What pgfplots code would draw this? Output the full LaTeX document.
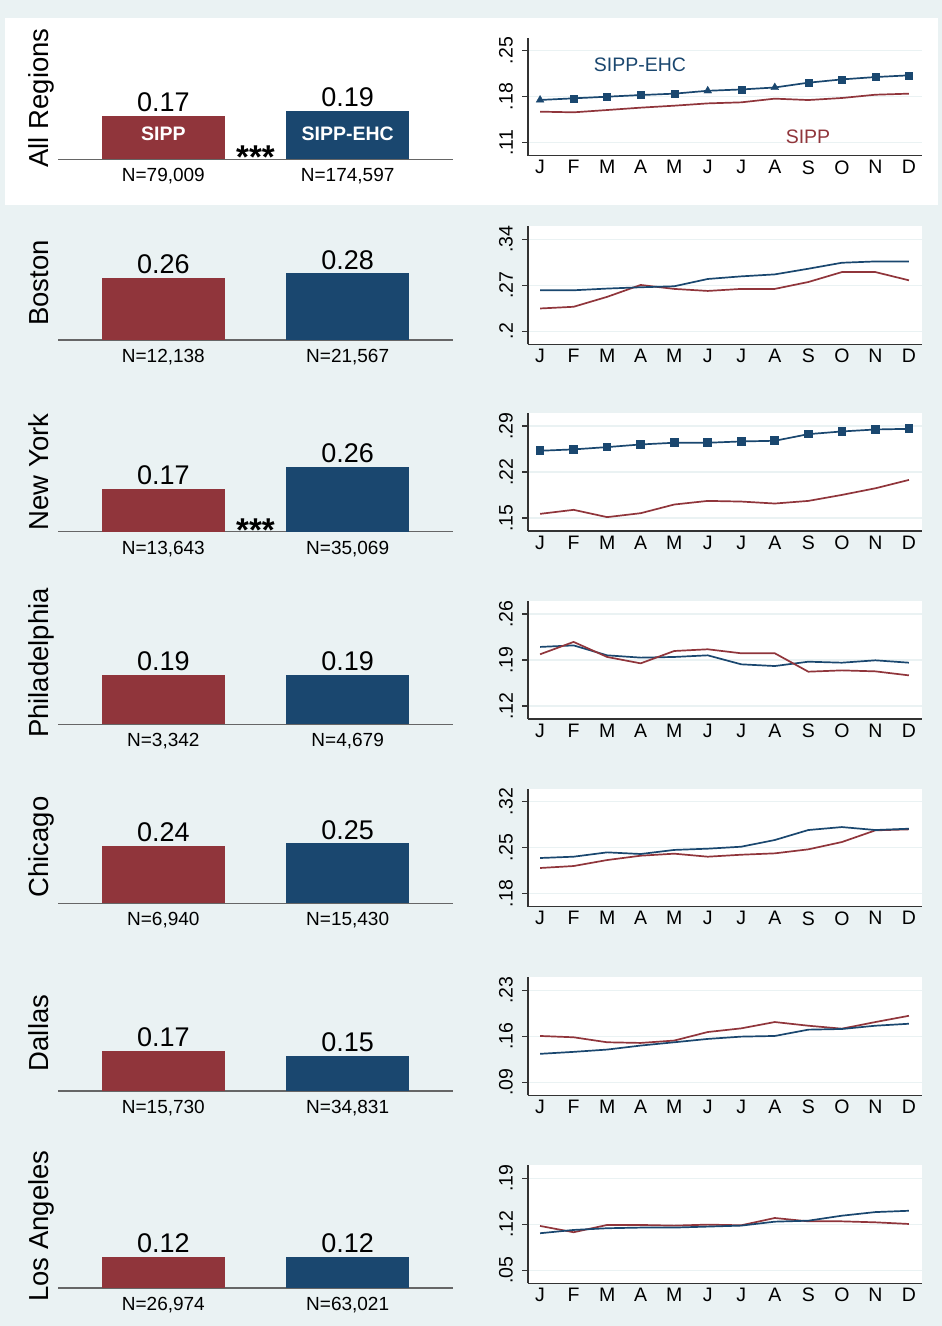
\documentclass[border=0pt]{standalone}
\usepackage{fontspec}
\setmainfont{Liberation Sans}
\usepackage{pgfplots}
\usepackage{pgfplotstable}
\pgfplotsset{compat=1.18}

\definecolor{bgc}{RGB}{234,242,243}
\definecolor{sippred}{RGB}{144,53,59}
\definecolor{ehcblue}{RGB}{26,71,111}

\newcommand\Vfont{\fontsize{27}{30}\selectfont}
\newcommand\Nfont{\fontsize{19}{22}\selectfont}
\newcommand\Tfont{\fontsize{19.5}{22}\selectfont}
\newcommand\Lfont{\fontsize{27.5}{30}\selectfont}
\newcommand\Bfont{\fontsize{19.5}{22}\selectfont\bfseries}
\newcommand\Sfont{\fontsize{33}{36}\selectfont\bfseries}

% monthly shares: m, SIPP, SIPP-EHC
\pgfplotstableread{
m sipp ehc mk
1 0.1572 0.1750 t
2 0.1562 0.1775 s
3 0.1597 0.1800 s
4 0.1633 0.1825 s
5 0.1663 0.1846 s
6 0.1698 0.1890 t
7 0.1714 0.1910 s
8 0.1770 0.1940 t
9 0.1749 0.2013 s
10 0.1780 0.2063 s
11 0.1830 0.2099 s
12 0.1846 0.2125 s
}\allreg
\pgfplotstableread{
m sipp ehc
1 0.2347 0.2624
2 0.2373 0.2624
3 0.2524 0.2650
4 0.2705 0.2670
5 0.2645 0.2685
6 0.2614 0.2796
7 0.2645 0.2836
8 0.2645 0.2866
9 0.2750 0.2952
10 0.2901 0.3043
11 0.2901 0.3063
12 0.2776 0.3063
}\boston
\pgfplotstableread{
m sipp ehc
1 0.1563 0.2523
2 0.1624 0.2544
3 0.1513 0.2579
4 0.1573 0.2619
5 0.1705 0.2645
6 0.1760 0.2645
7 0.1750 0.2665
8 0.1720 0.2675
9 0.1760 0.2776
10 0.1851 0.2817
11 0.1952 0.2847
12 0.2079 0.2857
}\newyork
\pgfplotstableread{
m sipp ehc
1 0.1987 0.2099
2 0.2175 0.2122
3 0.1946 0.1971
4 0.1849 0.1936
5 0.2037 0.1946
6 0.2063 0.1971
7 0.2002 0.1834
8 0.2002 0.1808
9 0.1722 0.1874
10 0.1742 0.1859
11 0.1727 0.1895
12 0.1666 0.1859
}\philly
\pgfplotstableread{
m sipp ehc
1 0.2191 0.2343
2 0.2221 0.2363
3 0.2312 0.2429
4 0.2378 0.2404
5 0.2409 0.2466
6 0.2363 0.2485
7 0.2393 0.2515
8 0.2414 0.2617
9 0.2475 0.2769
10 0.2586 0.2814
11 0.2764 0.2769
12 0.2779 0.2789
}\chicago
\pgfplotstableread{
m sipp ehc
1 0.1605 0.1333
2 0.1585 0.1363
3 0.1509 0.1398
4 0.1499 0.1459
5 0.1535 0.1509
6 0.1665 0.1560
7 0.1721 0.1595
8 0.1817 0.1605
9 0.1761 0.1701
10 0.1716 0.1711
11 0.1817 0.1761
12 0.1912 0.1791
}\dallas
\pgfplotstableread{
m sipp ehc
1 0.1175 0.1064
2 0.1079 0.1114
3 0.1190 0.1140
4 0.1190 0.1150
5 0.1180 0.1150
6 0.1195 0.1165
7 0.1185 0.1180
8 0.1296 0.1240
9 0.1245 0.1255
10 0.1245 0.1331
11 0.1230 0.1386
12 0.1205 0.1406
}\losangeles

\pgfplotsset{
  barpanel/.style={
    scale only axis, width=395pt, height=100pt, anchor=south west,
    xmin=58, xmax=453, ymin=0, ymax=#1,
    axis x line=bottom, axis y line=none, ytick=\empty,
    x axis line style={-, draw=black!60, line width=1.3pt},
    ybar, bar width=123.3,
    xtick={163.35,347.65}, major tick length=0pt,
    xticklabel style={font=\Nfont, inner sep=0pt, yshift=-9pt},
    nodes near coords={\pgfmathprintnumber[fixed,fixed zerofill,precision=2,assume math mode=true]{\pgfplotspointmeta}},
    every node near coord/.append style={font=\Vfont, inner sep=0pt, yshift=4pt, text=black},
    clip=false,
  },
  sippbar/.style={fill=sippred, draw=none, bar shift=0pt},
  ehcbar/.style={fill=ehcblue, draw=none, bar shift=0pt},
  linepanel/.style={
    scale only axis, width=394pt, height=118pt, anchor=south west,
    xmin=0.64, xmax=12.39,
    axis lines=left, axis line style={-, draw=black!80, line width=1.3pt},
    axis background/.style={fill=white},
    xtick={1,...,12}, xticklabels={J,F,M,A,M,J,J,A,S,O,N,D},
    x tick style={draw=none},
    y tick style={draw=black!80, line width=1.3pt},
    tick align=outside, major tick length=6pt,
    ymajorgrids, major grid style={draw=bgc, line width=1.2pt},
    yticklabel style={rotate=90, anchor=south, inner xsep=0pt, inner ysep=9pt, font=\Tfont},
    xticklabel style={font=\Tfont, inner sep=0pt, yshift=1.5pt},
    clip=false,
  },
  sippline/.style={sippred, line width=1.7pt, no marks},
  ehcline/.style={ehcblue, line width=1.7pt, no marks},
}

\begin{document}
\begin{tikzpicture}[x=1pt,y=1pt]
\path[use as bounding box, fill=bgc] (0,0) rectangle (942,1326);
\fill[white] (5,1121) rectangle (938,1308);

\node[rotate=90, anchor=base, font=\Lfont] at (48.5,1228) {All Regions};
\node[rotate=90, anchor=base, font=\Lfont] at (48.5,1043) {Boston};
\node[rotate=90, anchor=base, font=\Lfont] at (48.5,854) {New York};
\node[rotate=90, anchor=base, font=\Lfont] at (48.5,663) {Philadelphia};
\node[rotate=90, anchor=base, font=\Lfont] at (48.5,479) {Chicago};
\node[rotate=90, anchor=base, font=\Lfont] at (48.5,293) {Dallas};
\node[rotate=90, anchor=base, font=\Lfont] at (48.5,100) {Los Angeles};

% ---- bar panels
\begin{axis}[barpanel=0.393, at={(58pt,1166.7pt)}, xticklabels={{N=79,009},{N=174,597}}]
\addplot[sippbar] coordinates {(163.35,0.17)};
\addplot[ehcbar] coordinates {(347.65,0.19)};
\node[font=\Bfont, text=white] at (axis cs:163.35,0.0994) {SIPP};
\node[font=\Bfont, text=white] at (axis cs:347.65,0.0994) {SIPP-EHC};
\node[font=\Sfont, anchor=base, yshift=-9.5pt] at (axis cs:255.5,0) {***};
\end{axis}

\begin{axis}[barpanel=0.421, at={(58pt,986pt)}, xticklabels={{N=12,138},{N=21,567}}]
\addplot[sippbar] coordinates {(163.35,0.26)};
\addplot[ehcbar] coordinates {(347.65,0.28)};
\end{axis}

\begin{axis}[barpanel=0.401, at={(58pt,794.3pt)}, xticklabels={{N=13,643},{N=35,069}}]
\addplot[sippbar] coordinates {(163.35,0.17)};
\addplot[ehcbar] coordinates {(347.65,0.26)};
\node[font=\Sfont, anchor=base, yshift=-9.5pt] at (axis cs:255.5,0) {***};
\end{axis}

\begin{axis}[barpanel=0.388, at={(58pt,601.7pt)}, xticklabels={{N=3,342},{N=4,679}}]
\addplot[sippbar] coordinates {(163.35,0.19)};
\addplot[ehcbar] coordinates {(347.65,0.19)};
\end{axis}

\begin{axis}[barpanel=0.418, at={(58pt,422.7pt)}, xticklabels={{N=6,940},{N=15,430}}]
\addplot[sippbar] coordinates {(163.35,0.24)};
\addplot[ehcbar] coordinates {(347.65,0.25)};
\end{axis}

\begin{axis}[barpanel=0.4255, at={(58pt,235pt)}, xticklabels={{N=15,730},{N=34,831}}]
\addplot[sippbar] coordinates {(163.35,0.17)};
\addplot[ehcbar] coordinates {(347.65,0.15)};
\end{axis}

\begin{axis}[barpanel=0.388, at={(58pt,38pt)}, xticklabels={{N=26,974},{N=63,021}}]
\addplot[sippbar] coordinates {(163.35,0.12)};
\addplot[ehcbar] coordinates {(347.65,0.12)};
\end{axis}

% ---- monthly line panels
\begin{axis}[linepanel, at={(528pt,1170.3pt)}, ymin=0.0902, ymax=0.2698,
  ytick={0.11,0.18,0.25}, yticklabels={.11,.18,.25}]
\addplot[sippline] table[x=m, y=sipp] {\allreg};
\addplot[ehcline] table[x=m, y=ehc] {\allreg};
\addplot[scatter, only marks, scatter src=explicit symbolic,
  scatter/classes={s={mark=square*, mark size=3.5pt, ehcblue},
                   t={mark=triangle*, mark size=4.5pt, ehcblue}}]
  table[x=m, y=ehc, meta=mk] {\allreg};
\node[text=ehcblue, font=\Tfont] at (axis cs:3.98,0.228) {SIPP-EHC};
\node[text=sippred, font=\Tfont] at (axis cs:8.99,0.1187) {SIPP};
\end{axis}

\begin{axis}[linepanel, at={(528pt,981.7pt)}, ymin=0.1802, ymax=0.3598,
  ytick={0.20,0.27,0.34}, yticklabels={.2,.27,.34}]
\addplot[sippline] table[x=m, y=sipp] {\boston};
\addplot[ehcline] table[x=m, y=ehc] {\boston};
\end{axis}

\begin{axis}[linepanel, at={(528pt,795pt)}, ymin=0.1302, ymax=0.3098,
  ytick={0.15,0.22,0.29}, yticklabels={.15,.22,.29}]
\addplot[sippline] table[x=m, y=sipp] {\newyork};
\addplot[ehcblue, line width=1.7pt, mark=square*, mark size=3.5pt] table[x=m, y=ehc] {\newyork};
\end{axis}

\begin{axis}[linepanel, at={(528pt,607pt)}, ymin=0.1002, ymax=0.2798,
  ytick={0.12,0.19,0.26}, yticklabels={.12,.19,.26}]
\addplot[ehcline] table[x=m, y=ehc] {\philly};
\addplot[sippline] table[x=m, y=sipp] {\philly};
\end{axis}

\begin{axis}[linepanel, at={(528pt,419.3pt)}, ymin=0.1602, ymax=0.3398,
  ytick={0.18,0.25,0.32}, yticklabels={.18,.25,.32}]
\addplot[sippline] table[x=m, y=sipp] {\chicago};
\addplot[ehcline] table[x=m, y=ehc] {\chicago};
\end{axis}

\begin{axis}[linepanel, at={(528pt,230.7pt)}, ymin=0.0702, ymax=0.2498,
  ytick={0.09,0.16,0.23}, yticklabels={.09,.16,.23}]
\addplot[sippline] table[x=m, y=sipp] {\dallas};
\addplot[ehcline] table[x=m, y=ehc] {\dallas};
\end{axis}

\begin{axis}[linepanel, at={(528pt,42.7pt)}, ymin=0.0302, ymax=0.2098,
  ytick={0.05,0.12,0.19}, yticklabels={.05,.12,.19}]
\addplot[sippline] table[x=m, y=sipp] {\losangeles};
\addplot[ehcline] table[x=m, y=ehc] {\losangeles};
\end{axis}
\end{tikzpicture}
\end{document}
